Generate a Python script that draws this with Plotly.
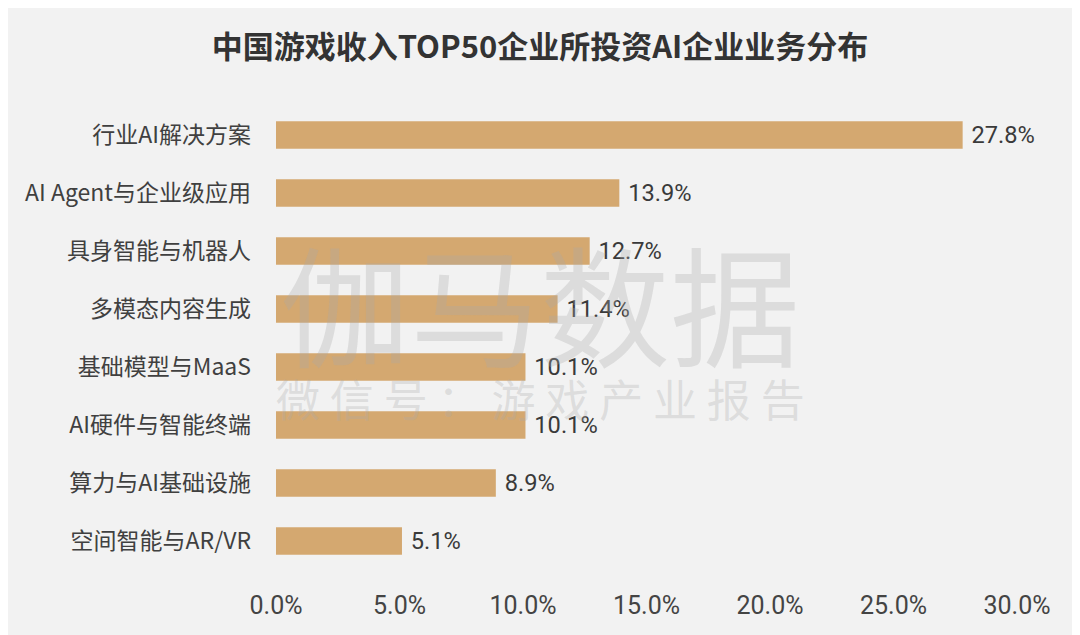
import plotly.graph_objects as go

# data
categories = [
    "行业AI解决方案",
    "AI Agent与企业级应用",
    "具身智能与机器人",
    "多模态内容生成",
    "基础模型与MaaS",
    "AI硬件与智能终端",
    "算力与AI基础设施",
    "空间智能与AR/VR",
]
shares = [27.8, 13.9, 12.7, 11.4, 10.1, 10.1, 8.9, 5.1]
tick_vals = [0, 5, 10, 15, 20, 25, 30]
tick_text = ["0.0%", "5.0%", "10.0%", "15.0%", "20.0%", "25.0%", "30.0%"]

BG = "#F2F2F2"
BAR = "#D4A870"
FONT = "Noto Sans CJK SC"
NUM_FONT = "Roboto, " + FONT

W, H = 1072, 627
L, R, T, B = 268, 63, 98, 65

fig = go.Figure()
fig.add_trace(go.Bar(
    x=shares,
    y=categories,
    orientation="h",
    marker=dict(color=BAR, line=dict(width=0)),
    text=[" " + f"{v:.1f}%" for v in shares],
    textposition="outside",
    textfont=dict(family=NUM_FONT, size=26, color="#3a3a3a"),
    cliponaxis=False,
))


def px_to_paper(x, y):
    # figure pixel position -> paper coordinates of the plot area
    return (x - L) / (W - L - R), (H - B - y) / (H - T - B)


# watermark
wx, wy = px_to_paper(532, 292)
fig.add_annotation(
    x=wx, y=wy, xref="paper", yref="paper", xanchor="center", yanchor="middle",
    text="伽马数据", showarrow=False,
    font=dict(family=FONT, size=130, color="rgba(170,170,170,0.30)"),
)
wx, wy = px_to_paper(532, 390)
fig.add_annotation(
    x=wx, y=wy, xref="paper", yref="paper", xanchor="center", yanchor="middle",
    text="微 信 号 ： 游 戏 产 业 报 告", showarrow=False,
    font=dict(family=FONT, size=44, color="rgba(170,170,170,0.30)"),
)

fig.update_layout(
    width=W,
    height=H,
    paper_bgcolor=BG,
    plot_bgcolor=BG,
    margin=dict(l=L, r=R, t=T, b=B),
    bargap=0.53,
    showlegend=False,
    title=dict(
        text="<b>中国游戏收入TOP50企业所投资AI企业业务分布</b>",
        x=(532) / W, xanchor="center", y=1 - 39 / H, yanchor="middle",
        font=dict(family=FONT, size=31, color="#333333"),
    ),
    xaxis=dict(
        range=[0, 30],
        tickvals=tick_vals,
        ticktext=tick_text,
        showgrid=False,
        zeroline=False,
        showline=False,
        ticklabelstandoff=18,
        tickfont=dict(family=NUM_FONT, size=25, color="#444444"),
    ),
    yaxis=dict(
        autorange="reversed",
        showgrid=False,
        showline=False,
        ticklabelstandoff=24,
        tickfont=dict(family=FONT, size=23, color="#404040"),
    ),
)

fig.write_html("out.html")
